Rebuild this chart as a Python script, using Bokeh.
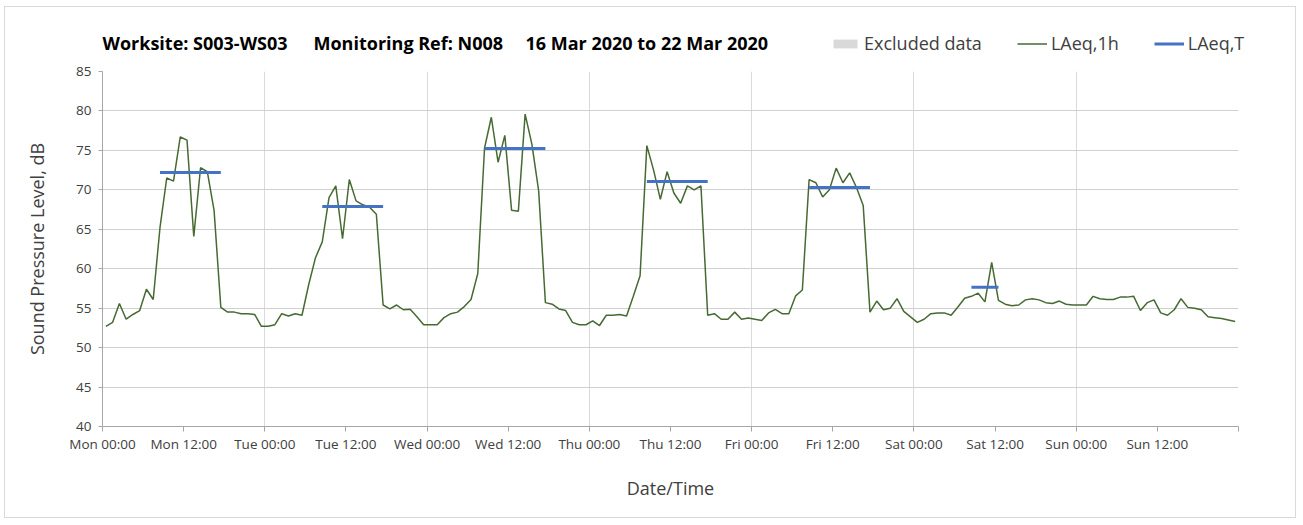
import numpy as np
from bokeh.plotting import figure
from bokeh.layouts import column
from bokeh.models import Range1d, FixedTicker, Legend, LegendItem, Label
from bokeh.embed import file_html
from bokeh.resources import INLINE

# ---------------- data ----------------
tick_labels = ["Mon 00:00", "Mon 12:00", "Tue 00:00", "Tue 12:00", "Wed 00:00", "Wed 12:00",
               "Thu 00:00", "Thu 12:00", "Fri 00:00", "Fri 12:00", "Sat 00:00", "Sat 12:00",
               "Sun 00:00", "Sun 12:00"]

laeq_mon = [52.7, 53.2, 55.6, 53.6, 54.2, 54.7, 57.4, 56.1, 65.2, 71.5, 71.1, 76.7,
            76.3, 64.1, 72.8, 72.3, 67.4, 55.1, 54.5, 54.5, 54.3, 54.3, 54.2, 52.7]
laeq_tue = [52.7, 52.9, 54.3, 54.0, 54.3, 54.1, 58.0, 61.4, 63.4, 69.0, 70.5, 63.8,
            71.3, 68.6, 68.1, 67.8, 66.9, 55.4, 54.9, 55.4, 54.8, 54.85, 53.9, 52.9]
laeq_wed = [52.9, 52.9, 53.8, 54.3, 54.5, 55.2, 56.1, 59.4, 75.3, 79.2, 73.5, 76.9,
            67.4, 67.3, 79.6, 75.8, 69.9, 55.7, 55.5, 54.9, 54.7, 53.2, 52.9, 52.9]
laeq_thu = [53.4, 52.8, 54.1, 54.1, 54.2, 54.0, 56.5, 59.1, 75.6, 72.5, 68.8, 72.3,
            69.6, 68.3, 70.5, 70.0, 70.5, 54.1, 54.3, 53.6, 53.6, 54.5, 53.6, 53.75]
laeq_fri = [53.6, 53.45, 54.4, 54.85, 54.3, 54.3, 56.55, 57.3, 71.3, 70.9, 69.1, 70.0,
            72.75, 70.9, 72.15, 70.3, 68.0, 54.5, 55.9, 54.8, 55.0, 56.2, 54.6, 53.9]
laeq_sat = [53.2, 53.6, 54.3, 54.4, 54.4, 54.1, 55.15, 56.25, 56.5, 56.9, 55.8, 60.8,
            56.0, 55.5, 55.3, 55.4, 56.05, 56.2, 56.05, 55.7, 55.6, 55.9, 55.5, 55.4]
laeq_sun = [55.4, 55.4, 56.5, 56.2, 56.1, 56.1, 56.4, 56.4, 56.5, 54.7, 55.7, 56.05,
            54.4, 54.1, 54.8, 56.2, 55.1, 55.0, 54.8, 53.9, 53.8, 53.7, 53.5, 53.3]

# LAeq,T working periods: day index, start hour, end hour, level
period_day = [0, 1, 2, 3, 4, 5]
period_start = [8, 8, 8, 8, 8, 8]
period_end = [18, 18, 18, 18, 18, 13]
laeq_t = [72.2, 67.9, 75.25, 71.05, 70.3, 57.65]

# excluded data periods (none this week)
excluded_start = []
excluded_end = []

y_ticks = [40, 45, 50, 55, 60, 65, 70, 75, 80, 85]

title_parts = ["Worksite: S003-WS03", "Monitoring Ref: N008", "16 Mar 2020 to 22 Mar 2020"]
legend_labels = ["Excluded data", "LAeq,1h", "LAeq,T"]

# ---------------- derived ----------------
laeq_1h = laeq_mon + laeq_tue + laeq_wed + laeq_thu + laeq_fri + laeq_sat + laeq_sun
hours = np.arange(len(laeq_1h)) + 0.5
t_x0 = [d * 24 + s + 0.5 for d, s in zip(period_day, period_start)]
t_x1 = [d * 24 + e - 0.5 for d, e in zip(period_day, period_end)]

FONT = "Open Sans"
TXT = "#404040"
GREEN = "#466a32"
BLUE = "#4472C4"
GREY = "#d9d9d9"

W = 1290
HEAD_H = 50
MAIN_H = 460

# ---------------- header (title + legend) ----------------
# header coordinates equal page pixels
head = figure(width=W, height=HEAD_H, x_range=Range1d(5, 5 + W), y_range=Range1d(7 + HEAD_H, 7),
              output_backend="svg", toolbar_location=None,
              min_border_left=0, min_border_right=0, min_border_top=0, min_border_bottom=0)
head.frame_align = False
head.axis.visible = False
head.grid.visible = False
head.outline_line_color = None
head.border_fill_color = "white"

title_x = [102, 313, 525]
for txt, tx in zip(title_parts, title_x):
    head.add_layout(Label(x=tx, y=42, text=txt, text_font=FONT, text_font_style="bold",
                          text_font_size="18px", text_baseline="middle", text_color="#000000"))

# legend swatches only (single NaN point, never drawn)
nan1 = [np.nan]
h_exc = head.quad(left=nan1, right=nan1, bottom=nan1, top=nan1, fill_color=GREY, line_color=None)
h_1h = head.line(x=nan1, y=nan1, line_color=GREEN, line_width=1.5)
h_t = head.segment(x0=nan1, y0=nan1, x1=nan1, y1=nan1, line_color=BLUE, line_width=3)

legend = Legend(items=[LegendItem(label=legend_labels[0], renderers=[h_exc]),
                       LegendItem(label=legend_labels[1], renderers=[h_1h]),
                       LegendItem(label=legend_labels[2], renderers=[h_t])],
                location=(825, 2), orientation="horizontal",
                glyph_width=30, glyph_height=11, label_height=20, label_standoff=4,
                spacing=35, padding=0, margin=0,
                border_line_color=None, background_fill_alpha=0,
                label_text_font=FONT, label_text_font_size="18px", label_text_color=TXT)
head.add_layout(legend)

# ---------------- main chart ----------------
p = figure(width=W, height=MAIN_H, x_range=Range1d(0, 168), y_range=Range1d(40, 85),
           output_backend="svg", toolbar_location=None,
           min_border_left=97, min_border_right=57, min_border_top=14, min_border_bottom=91)
p.outline_line_color = None
p.background_fill_color = "white"
p.border_fill_color = "white"

p.quad(left=excluded_start, right=excluded_end,
       bottom=[40] * len(excluded_start), top=[85] * len(excluded_start),
       fill_color=GREY, line_color=None)
p.line(hours, laeq_1h, line_color=GREEN, line_width=1.5)
p.segment(x0=t_x0, y0=laeq_t, x1=t_x1, y1=laeq_t, line_color=BLUE, line_width=3)

p.xaxis.ticker = FixedTicker(ticks=list(range(0, 169, 12)))
overrides = {i * 12: lab for i, lab in enumerate(tick_labels)}
overrides[168] = ""
p.xaxis.major_label_overrides = overrides
p.xaxis.minor_tick_line_color = None
p.xaxis.major_tick_in = 0
p.xaxis.major_tick_out = 5
p.xaxis.major_label_standoff = 3
p.xaxis.axis_label = "Date/Time"
p.xaxis.axis_label_standoff = 20

p.yaxis.ticker = FixedTicker(ticks=y_ticks)
p.yaxis.minor_tick_line_color = None
p.yaxis.major_tick_in = 0
p.yaxis.major_tick_out = 4
p.yaxis.major_label_standoff = 7
p.yaxis.axis_label = "Sound Pressure Level, dB"
p.yaxis.axis_label_standoff = 24

for ax in (p.xaxis[0], p.yaxis[0]):
    ax.axis_line_color = "#a6a6a6"
    ax.major_tick_line_color = "#a6a6a6"
    ax.major_label_text_font = FONT
    ax.major_label_text_font_size = "13.5px"
    ax.major_label_text_color = TXT
    ax.axis_label_text_font = FONT
    ax.axis_label_text_font_size = "18px"
    ax.axis_label_text_font_style = "normal"
    ax.axis_label_text_color = TXT

p.xgrid.ticker = FixedTicker(ticks=list(range(0, 169, 24)))
p.xgrid.grid_line_color = "#d9d9d9"
p.ygrid.grid_line_color = "#d0d0d0"

layout = column(head, p, spacing=0)
layout.styles = {"border": "1px solid #d9d9d9", "margin-left": "4px", "margin-top": "6px"}

open("out.html", "w").write(file_html(layout, INLINE))
